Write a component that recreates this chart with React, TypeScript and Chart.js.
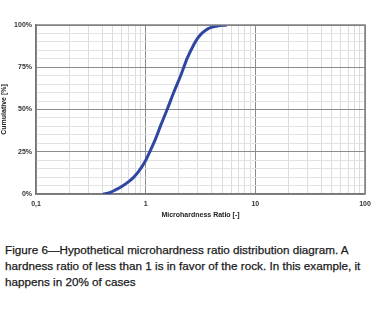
import React, { useEffect, useRef } from "react";
import { Chart, registerables } from "chart.js";

Chart.register(...registerables);

const ratioValues = [0.41, 0.47, 0.53, 0.61, 0.7, 0.78, 0.86, 1.0, 1.1, 1.22, 1.36, 1.57, 1.79, 2.07, 2.4, 2.73, 2.95, 3.2, 3.5, 3.9, 4.5, 5.5];
const cumulativeValues = [0, 0.8, 2.4, 4.6, 7.3, 10, 13.2, 19.8, 25.5, 32, 40, 50, 59.6, 69.5, 80.5, 88, 91.8, 94.6, 96.8, 98.4, 99.4, 100];
const xTickValues = [0.1, 0.2, 0.3, 0.4, 0.5, 0.6, 0.7, 0.8, 0.9, 1, 2, 3, 4, 5, 6, 7, 8, 9, 10, 20, 30, 40, 50, 60, 70, 80, 90, 100];
const xTickLabels: Record<string, string> = { "0.1": "0,1", "1": "1", "10": "10", "100": "100" };
const yTickStep = 5;
const yLabelStep = 25;
const captionText = "Figure 6\u2014Hypothetical microhardness ratio distribution diagram. A hardness ratio of less than 1 is in favor of the rock. In this example, it happens in 20% of cases";

export default function App() {
  const ref = useRef<HTMLCanvasElement | null>(null);
  useEffect(() => {
    document.body.style.margin = "0";
    const ctx = ref.current!;
    const isDecade = (v: number) => Math.abs(Math.log10(v) - Math.round(Math.log10(v))) < 1e-6;
    const chart = new Chart(ctx, {
      type: "line",
      data: {
        datasets: [
          {
            data: ratioValues.map((x, i) => ({ x, y: cumulativeValues[i] })),
            borderColor: "#2f47a3",
            borderWidth: 3,
            pointRadius: 0,
            cubicInterpolationMode: "monotone",
            fill: false,
          },
        ],
      },
      options: {
        animation: false,
        responsive: false,
        maintainAspectRatio: false,
        layout: { padding: { top: 25, right: 14, left: 0, bottom: 0 } },
        plugins: { legend: { display: false }, tooltip: { enabled: false } },
        scales: {
          x: {
            type: "logarithmic",
            min: 0.1,
            max: 100,
            afterBuildTicks: (scale: any) => {
              scale.ticks = xTickValues.map((v) => ({ value: v }));
            },
            afterFit: (scale: any) => {
              scale.height = 31;
            },
            ticks: {
              autoSkip: false,
              maxRotation: 0,
              padding: 6,
              color: "#333",
              font: { family: "Liberation Sans, Arial", size: 7, weight: "bold" },
              callback: (v: any) => {
                const key = String(Number(v));
                return xTickLabels[key] ?? "";
              },
            },
            grid: {
              drawTicks: false,
              color: (c: any) => (c.tick && isDecade(c.tick.value) ? "#8c8c8c" : "#dcdcdc"),
              lineWidth: 1,
            },
            border: { color: "#777", width: 1.5 },
            title: {
              display: true,
              text: "Microhardness Ratio [-]",
              color: "#222",
              font: { family: "Liberation Sans, Arial", size: 7, weight: "bold" },
              padding: { top: 3, bottom: 6 },
            },
          },
          y: {
            type: "linear",
            min: 0,
            max: 100,
            afterBuildTicks: (scale: any) => {
              const t = [];
              for (let v = 0; v <= 100; v += yTickStep) t.push({ value: v });
              scale.ticks = t;
            },
            afterFit: (scale: any) => {
              scale.width = 36;
            },
            ticks: {
              autoSkip: false,
              padding: 4,
              color: "#333",
              font: { family: "Liberation Sans, Arial", size: 7, weight: "bold" },
              callback: (v: any) => (Number(v) % yLabelStep === 0 ? v + "%" : ""),
            },
            grid: {
              drawTicks: false,
              color: (c: any) => (c.tick && c.tick.value % yLabelStep === 0 ? "#8c8c8c" : "#e2e2e2"),
              lineWidth: 1,
            },
            border: { color: "#777", width: 1.5 },
            title: {
              display: true,
              text: "Cumulative [%]",
              color: "#222",
              font: { family: "Liberation Sans, Arial", size: 7, weight: "bold" },
              padding: { top: 0, bottom: 2 },
            },
          },
        },
      },
      plugins: [
        {
          id: "frame",
          afterDraw: (c: any) => {
            const a = c.chartArea;
            const g = c.ctx;
            g.save();
            g.strokeStyle = "#808080";
            g.lineWidth = 1.5;
            g.beginPath();
            g.moveTo(a.left, a.top);
            g.lineTo(a.right, a.top);
            g.lineTo(a.right, a.bottom);
            g.stroke();
            g.restore();
          },
        },
      ],
    } as any);
    return () => chart.destroy();
  }, []);
  return (
    <div style={{ position: "relative", width: 379, height: 313, background: "#fff" }}>
      <canvas ref={ref} width={379} height={225} style={{ position: "absolute", left: 0, top: 0 }} />
      <div
        style={{
          position: "absolute",
          left: 5,
          top: 242,
          width: 372,
          fontFamily: "Liberation Sans, Arial, sans-serif",
          fontSize: 11.7,
          lineHeight: "16px",
          color: "#1a1a1a",
          WebkitTextStroke: "0.25px #1a1a1a",
        }}
      >
        {captionText}
      </div>
    </div>
  );
}
